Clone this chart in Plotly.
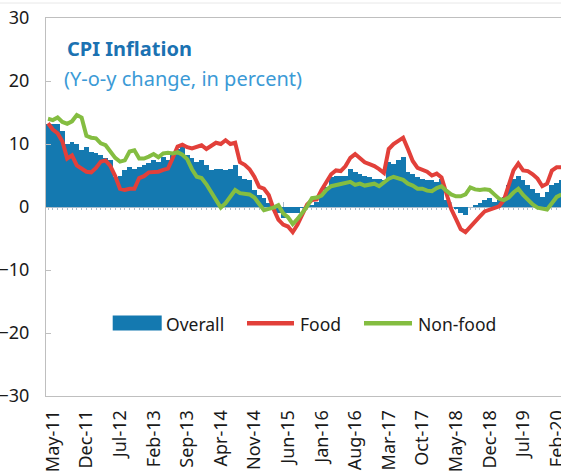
import plotly.graph_objects as go
import pandas as pd

# ---------------- data ----------------
months = pd.date_range("2011-05-01", periods=108, freq="MS").strftime("%b-%y").tolist()

overall = [13.2, 13.2, 13.2, 12.0, 10.0, 10.3, 10.0, 9.0, 9.5, 8.7,
           8.5, 8.2, 7.7, 7.4, 4.8, 5.0, 5.8, 6.3, 6.1, 6.3,
           6.6, 7.0, 7.4, 7.1, 7.9, 7.4, 8.2, 9.2, 9.5, 8.2,
           7.7, 7.1, 7.4, 6.6, 5.8, 6.1, 6.1, 5.8, 6.1, 6.6,
           5.0, 4.5, 4.3, 2.7, 1.9, 1.4, 0.6, 0.0, -1.0, -1.8,
           -1.0, -1.0, -1.0, -0.1, 0.3, 0.3, 0.8, 1.9, 3.2, 4.8,
           5.0, 5.0, 5.0, 6.1, 5.6, 5.3, 5.0, 4.8, 4.5, 4.5,
           4.3, 7.1, 6.9, 7.4, 7.9, 5.6, 5.3, 4.8, 4.5, 4.3,
           4.3, 4.0, 4.5, 1.1, 0.0, -0.2, -1.0, -1.3, 0.0, 0.3,
           0.6, 1.1, 1.4, 0.8, 1.1, 1.6, 3.5, 4.5, 5.0, 4.3,
           3.5, 2.9, 2.2, 1.6, 2.4, 3.5, 3.8, 4.3]

food = [13.3, 12.3, 11.7, 10.4, 7.7, 8.2, 6.6, 6.1, 5.6, 5.5,
        6.2, 7.2, 7.4, 6.5, 4.9, 2.9, 2.7, 2.9, 2.9, 4.6,
        4.9, 5.5, 5.6, 5.6, 5.9, 6.1, 7.8, 9.6, 9.9, 9.5,
        9.3, 9.6, 9.8, 9.2, 9.7, 10.2, 10.0, 10.6, 10.0, 10.2,
        7.1, 6.7, 6.0, 4.8, 3.2, 2.9, 1.9, -0.3, -2.0, -2.8,
        -3.1, -4.0, -2.8, -1.0, 0.4, 1.1, 1.2, 2.7, 4.0, 5.2,
        5.8, 5.7, 6.5, 7.8, 8.4, 7.8, 7.1, 6.8, 6.5, 6.0,
        5.4, 9.2, 10.0, 10.5, 11.0, 9.2, 7.3, 6.2, 5.9, 5.6,
        5.0, 5.3, 4.7, 2.3, -0.3, -1.9, -3.5, -4.0, -3.1, -2.3,
        -1.5, -0.7, -0.4, -0.1, 0.1, 1.1, 3.3, 5.8, 6.9, 5.8,
        5.7, 5.2, 4.5, 3.3, 3.7, 5.8, 6.3, 6.3]

non_food = [14.0, 13.8, 14.2, 13.5, 13.2, 13.6, 14.6, 14.2, 11.3, 11.0,
            10.9, 10.1, 9.8, 8.8, 7.8, 7.2, 7.4, 8.8, 9.0, 7.7,
            7.7, 8.0, 8.4, 7.9, 8.5, 8.6, 8.5, 8.7, 8.3, 7.6,
            6.0, 4.8, 4.6, 3.6, 2.3, 0.9, -0.1, 0.6, 1.6, 2.7,
            2.2, 2.1, 2.0, 1.5, 0.5, -0.5, -0.3, -0.1, 0.3, -1.0,
            -1.6, -2.7, -1.9, -0.9, 0.1, 1.4, 1.5, 1.8, 2.7, 3.3,
            3.5, 3.6, 3.8, 4.0, 3.5, 3.7, 3.4, 3.5, 3.7, 3.3,
            3.9, 4.5, 4.8, 4.5, 4.3, 3.7, 3.4, 2.9, 2.9, 2.6,
            2.5, 3.0, 3.3, 2.6, 2.0, 1.7, 1.7, 2.0, 3.1, 2.8,
            2.7, 2.8, 2.7, 2.0, 1.3, 1.1, 1.5, 2.3, 2.9, 1.9,
            1.1, 0.4, -0.1, -0.3, -0.4, 0.6, 1.6, 2.0]

tick_labels = months[::7]
y_ticks = [-30, -20, -10, 0, 10, 20, 30]

# ---------------- style ----------------
BLUE = "#1479B0"
RED = "#E2403A"
GREEN = "#84BD41"
FONT = "Noto Sans, Segoe UI, sans-serif"
W, H = 561, 476
L, R, T, B = 46, 0, 18, 80
PW, PH = W - L - R, H - T - B


def px(x):
    return (x - L) / PW


def py(y):
    return (H - B - y) / PH


idx = list(range(len(months)))
tick_idx = idx[::7]

fig = go.Figure()
fig.add_trace(go.Bar(x=idx, y=overall, name="Overall", marker=dict(color=BLUE, line=dict(width=0)),
                     customdata=months, hovertemplate="%{customdata}: %{y}<extra>Overall</extra>",
                     showlegend=False))
fig.add_trace(go.Scatter(x=idx, y=food, name="Food", mode="lines", xaxis="x2",
                         line=dict(color=RED, width=4), customdata=months,
                         hovertemplate="%{customdata}: %{y}<extra>Food</extra>", showlegend=False))
fig.add_trace(go.Scatter(x=idx, y=non_food, name="Non-food", mode="lines", xaxis="x2",
                         line=dict(color=GREEN, width=4), customdata=months,
                         hovertemplate="%{customdata}: %{y}<extra>Non-food</extra>", showlegend=False))

fig.update_layout(
    width=W, height=H,
    margin=dict(l=L, r=R, t=T, b=B, pad=0, autoexpand=False),
    paper_bgcolor="white", plot_bgcolor="white",
    bargap=0,
    font=dict(family=FONT, color="#1a1a1a"),
    xaxis=dict(
        range=[-0.42, 106.9], tickmode="array", tickvals=tick_idx, ticktext=tick_labels,
        tickangle=-90, tickfont=dict(size=18, color="#1a1a1a"), ticks="",
        ticklabelstandoff=6, ticklabelshift=5, automargin=False, ticklabeloverflow="allow",
        showline=True, mirror=True, linecolor="#BFBFBF", linewidth=1,
        showgrid=False, zeroline=False,
    ),
    xaxis2=dict(
        overlaying="x", matches="x", anchor="free", position=0.5,
        showline=True, linecolor="#A9BCCB", linewidth=1, automargin=False,
        tickmode="array", tickvals=tick_idx, ticks="inside", ticklen=5,
        tickcolor="#A9BCCB", showticklabels=False,
        minor=dict(dtick=1, tick0=0, ticks="outside", ticklen=2, tickcolor="#A9BCCB"),
        showgrid=False, zeroline=False, layer="below traces",
    ),
    yaxis=dict(
        range=[-30, 30], tickvals=y_ticks, tickfont=dict(size=18, color="#1a1a1a"),
        ticks="inside", ticklen=5, tickcolor="#BFBFBF", automargin=False,
        showline=True, linecolor="#BFBFBF", linewidth=1,
        showgrid=False, zeroline=False, ticklabelstandoff=12,
    ),
)

# faint outer frame line at the very top
fig.add_shape(type="line", xref="paper", yref="paper", x0=px(0), x1=1, y0=py(3), y1=py(3),
              line=dict(color="#E8E8E8", width=1))

# title
fig.add_annotation(xref="paper", yref="paper", x=px(65), y=py(48), xanchor="left", yanchor="middle",
                   text="<b>CPI Inflation</b>", showarrow=False,
                   font=dict(size=20, color="#1B72B2", family=FONT))
fig.add_annotation(xref="paper", yref="paper", x=px(62), y=py(78), xanchor="left", yanchor="middle",
                   text="(Y-o-y change, in percent)", showarrow=False,
                   font=dict(size=20, color="#3B9AD6", family=FONT))

# legend (drawn)
fig.add_shape(type="rect", xref="paper", yref="paper", x0=px(112.7), x1=px(161.7), y0=py(330.5), y1=py(315.5),
              fillcolor=BLUE, line=dict(width=0))
fig.add_shape(type="line", xref="paper", yref="paper", x0=px(247), x1=px(294), y0=py(323.3), y1=py(323.3),
              line=dict(color=RED, width=4.5))
fig.add_shape(type="line", xref="paper", yref="paper", x0=px(364), x1=px(412), y0=py(323.3), y1=py(323.3),
              line=dict(color=GREEN, width=4.5))
for label, xl in [("Overall", 164), ("Food", 298), ("Non-food", 416)]:
    fig.add_annotation(xref="paper", yref="paper", x=px(xl), y=py(323.5), xanchor="left", yanchor="middle",
                       text=label, showarrow=False, font=dict(size=17.5, color="#1a1a1a", family=FONT))

fig.write_html("out.html", config={"displayModeBar": False},
               post_script="document.body.style.margin='0px';")
